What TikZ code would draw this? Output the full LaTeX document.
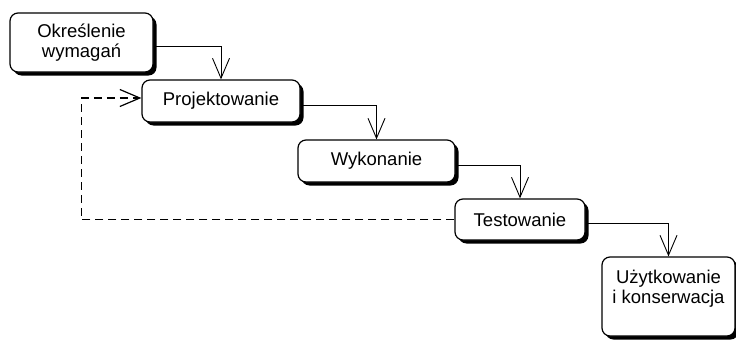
\documentclass[tikz,border=0pt]{standalone}
\usepackage{fontspec}
\setmainfont{Liberation Sans}
\usetikzlibrary{arrows.meta, shadows, positioning}

\begin{document}
\begin{tikzpicture}[x=1pt, y=-1pt,
  phase/.style={draw, line width=1.2pt, rounded corners=8pt, fill=white,
    drop shadow={shadow xshift=3.5pt, shadow yshift=-3.5pt, fill=black, opacity=1}},
  txt/.style={align=center, font=\fontsize{18.5}{20.5}\selectfont},
  flow/.style={-{Straight Barb[length=20pt, width=17pt]}, line width=0.9pt},
  back/.style={flow, line width=1.2pt, dash pattern=on 8pt off 5pt}]
\useasboundingbox (0,0) rectangle (736,340);
\node[phase, txt, minimum width=143pt, minimum height=59pt] (req) at (81.5,42.5) {Określenie\\wymagań};
\node[phase, txt, minimum width=158pt, minimum height=42pt] (design) at (221,101) {Projektowanie};
\node[phase, txt, minimum width=157pt, minimum height=42pt] (impl) at (376.5,161) {Wykonanie};
\node[phase, txt, minimum width=130pt, minimum height=41pt] (test) at (520,219.5) {Testowanie};
\node[phase, minimum width=133pt, minimum height=79pt] (use) at (668.5,296.5) {};
\node[txt, below=10pt of use.north] (usetxt) {Użytkowanie\\i konserwacja};
\draw[flow] ([yshift=-4pt]req.east) -| (design.north);
\draw[flow] ([yshift=-4pt]design.east) -| (impl.north);
\draw[flow] ([yshift=-4pt]impl.east) -| (test.north);
\draw[flow] ([yshift=-4pt]test.east) -| (use.north);
\draw[back] (test.west) -| ([xshift=-60pt, yshift=3pt]design.west) -- ([yshift=3pt]design.west);
\end{tikzpicture}
\end{document}
